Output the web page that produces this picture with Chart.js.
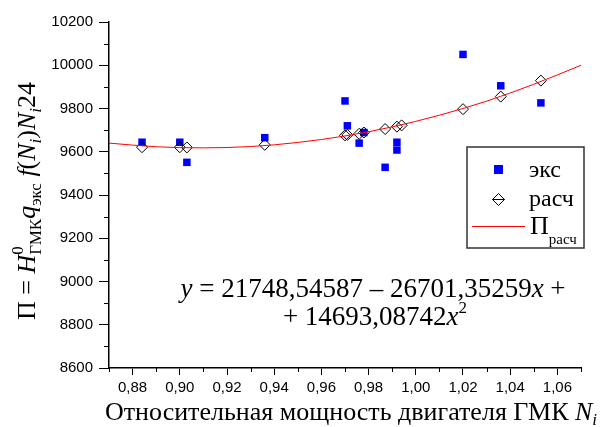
<!DOCTYPE html>
<html>
<head>
<meta charset="utf-8">
<script src="https://cdn.jsdelivr.net/npm/chart.js@4.4.0/dist/chart.umd.min.js"></script>
<style>
  html, body { margin: 0; padding: 0; background: #fff; }
  #wrap { width: 606px; height: 427px; }
</style>
</head>
<body>
<div id="wrap"><canvas id="chart" width="606" height="427"></canvas></div>
<script>
// experimental points (экс)
const expX = [0.884, 0.900, 0.903, 0.936, 0.970, 0.971, 0.976, 0.978, 0.987, 0.992, 0.992, 1.020, 1.036, 1.053];
const expY = [9644, 9644, 9551, 9665, 9835, 9720, 9640, 9689, 9528, 9644, 9608, 10050, 9905, 9826];

// calculated points (расч)
const calcX = [0.884, 0.900, 0.903, 0.936, 0.970, 0.971, 0.976, 0.978, 0.987, 0.992, 0.994, 1.020, 1.036, 1.053];
const calcY = [9621, 9621, 9620, 9632, 9676, 9678, 9683, 9689, 9705, 9716, 9722, 9797, 9855, 9929];

// fitted curve (П расч)
const fitX = [0.87, 0.89, 0.91, 0.93, 0.95, 0.97, 0.99, 1.01, 1.03, 1.05, 1.07];
const fitY = [9640, 9623, 9618, 9624, 9643, 9673, 9715, 9769, 9834, 9912, 10000];

// axis ticks
const xTicks = [0.88, 0.90, 0.92, 0.94, 0.96, 0.98, 1.00, 1.02, 1.04, 1.06];
const xMinor = [0.87, 0.89, 0.91, 0.93, 0.95, 0.97, 0.99, 1.01, 1.03, 1.05, 1.07];
const yTicks = [8600, 8800, 9000, 9200, 9400, 9600, 9800, 10000, 10200];
const yMinor = [8700, 8900, 9100, 9300, 9500, 9700, 9900, 10100];

const serif = '"Liberation Serif", "Times New Roman", serif';
const sans = '"Liberation Sans", Arial, sans-serif';

const toPts = (xs, ys) => xs.map((x, i) => ({ x: x, y: ys[i] }));

// draws a list of text runs: [text, font, dy, advance]
function drawRuns(ctx, parts, x, y) {
  let w = 0;
  parts.forEach(p => {
    ctx.font = p[1];
    ctx.fillText(p[0], x + w, y + (p[2] || 0));
    if (p[3] !== false) w += ctx.measureText(p[0]).width;
  });
  return w;
}
function runsWidth(ctx, parts) {
  let w = 0;
  parts.forEach(p => {
    ctx.font = p[1];
    if (p[3] !== false) w += ctx.measureText(p[0]).width;
  });
  return w;
}

const big = '26px ' + serif, bigI = 'italic 26px ' + serif;
const sm = '17px ' + serif, smI = 'italic 17px ' + serif;
const eqF = '27px ' + serif, eqI = 'italic 27px ' + serif;
const yTitle = [
  ['П = ', big], ['H', bigI], ['0', sm, -12, false], ['ГМК', sm, 6],
  ['q', bigI], ['экс', sm, 6], [' f', bigI], ['(', big], ['N', bigI], ['i', smI, 6],
  [')', big], ['N', bigI], ['i', smI, 6], ['24', big]
];
const xTitle = [
  ['Относительная мощность двигателя ГМК ', '26px ' + serif],
  ['N', 'italic 26px ' + serif], ['i', 'italic 17px ' + serif, 5]
];
const eq1 = [
  ['y', eqI], [' = 21748,54587 – 26701,35259', eqF], ['x', eqI], [' +', eqF]
];
const eq2 = [
  ['+ 14693,08742', eqF], ['x', eqI], ['2', '17px ' + serif, -12]
];

const extras = {
  id: 'extras',
  afterDraw(chart) {
    const ctx = chart.ctx;
    const xs = chart.scales.x, ys = chart.scales.y;
    const a = chart.chartArea;
    ctx.save();

    // minor ticks
    ctx.strokeStyle = '#000';
    ctx.lineWidth = 1;
    ctx.beginPath();
    xMinor.forEach(v => {
      const px = Math.round(xs.getPixelForValue(v)) + 0.5;
      ctx.moveTo(px, a.bottom);
      ctx.lineTo(px, a.bottom + 4);
    });
    yMinor.forEach(v => {
      const py = Math.round(ys.getPixelForValue(v)) + 0.5;
      ctx.moveTo(a.left, py);
      ctx.lineTo(a.left - 5, py);
    });
    ctx.stroke();

    ctx.fillStyle = '#000';
    ctx.textBaseline = 'alphabetic';
    ctx.textAlign = 'left';

    // y title (rotated)
    ctx.save();
    ctx.translate(35, 201);
    ctx.rotate(-Math.PI / 2);
    drawRuns(ctx, yTitle, -runsWidth(ctx, yTitle) / 2, 0);
    ctx.restore();

    // x title
    drawRuns(ctx, xTitle, 351 - runsWidth(ctx, xTitle) / 2, 420);

    // equation
    drawRuns(ctx, eq1, 373 - runsWidth(ctx, eq1) / 2, 297);
    drawRuns(ctx, eq2, 375 - runsWidth(ctx, eq2) / 2, 325);

    // legend
    const L = 467, T = 147, R = 584, B = 248;
    ctx.strokeStyle = '#333';
    ctx.lineWidth = 1.5;
    ctx.strokeRect(L, T, R - L, B - T);

    ctx.fillStyle = '#0000ff';
    ctx.fillRect(494, 165, 9, 9);

    ctx.strokeStyle = '#000';
    ctx.lineWidth = 1;
    ctx.beginPath();
    ctx.moveTo(498.5, 193.5); ctx.lineTo(504.5, 199.5); ctx.lineTo(498.5, 205.5); ctx.lineTo(492.5, 199.5); ctx.closePath();
    ctx.moveTo(492.5, 199.5); ctx.lineTo(504.5, 199.5);
    ctx.stroke();

    ctx.strokeStyle = '#ff0000';
    ctx.beginPath();
    ctx.moveTo(472, 226.5); ctx.lineTo(525, 226.5);
    ctx.stroke();

    ctx.fillStyle = '#000';
    ctx.font = '24px ' + serif;
    ctx.fillText('экс', 529, 177);
    ctx.fillText('расч', 529, 206);
    drawRuns(ctx, [['П', '26px ' + serif], ['расч', '15px ' + serif, 10]], 530, 234);

    ctx.restore();
  }
};

new Chart(document.getElementById('chart'), {
  type: 'scatter',
  data: {
    datasets: [
      {
        label: 'экс',
        data: toPts(expX, expY),
        order: 3,
        pointStyle: 'rect',
        pointRadius: 5.3,
        pointBorderWidth: 0,
        pointBackgroundColor: '#0000ff',
        pointBorderColor: '#0000ff'
      },
      {
        label: 'расч',
        data: toPts(calcX, calcY),
        order: 2,
        pointStyle: 'rectRot',
        pointRadius: 5.5,
        pointBorderWidth: 1,
        pointBackgroundColor: 'rgba(0,0,0,0)',
        pointBorderColor: '#000'
      },
      {
        label: 'Прасч',
        data: toPts(fitX, fitY),
        order: 1,
        showLine: true,
        borderColor: '#ff0000',
        borderWidth: 1,
        pointRadius: 0,
        cubicInterpolationMode: 'monotone'
      }
    ]
  },
  options: {
    responsive: false,
    animation: false,
    devicePixelRatio: 1,
    layout: { padding: { top: 22, right: 25, left: 0, bottom: 0 } },
    plugins: { legend: { display: false }, tooltip: { enabled: false } },
    scales: {
      x: {
        type: 'linear',
        min: 0.87,
        max: 1.07,
        afterBuildTicks: s => { s.ticks = xTicks.map(v => ({ value: v })); },
        afterFit: s => { s.height = 59; },
        grid: { drawOnChartArea: false, drawTicks: true, tickLength: 7, color: '#000', lineWidth: 1 },
        border: { display: true, color: '#000', width: 1.5 },
        ticks: {
          padding: 4,
          maxRotation: 0,
          autoSkip: false,
          color: '#000',
          font: { family: sans, size: 15 },
          callback: v => v.toFixed(2).replace('.', ',')
        }
      },
      y: {
        type: 'linear',
        min: 8600,
        max: 10200,
        afterBuildTicks: s => { s.ticks = yTicks.map(v => ({ value: v })); },
        afterFit: s => { s.width = 109; },
        grid: { drawOnChartArea: false, drawTicks: true, tickLength: 10, color: '#000', lineWidth: 1 },
        border: { display: true, color: '#000', width: 1.5 },
        ticks: {
          padding: 6,
          autoSkip: false,
          color: '#000',
          font: { family: sans, size: 15 },
          callback: v => String(v)
        }
      }
    }
  },
  plugins: [extras]
});
</script>
</body>
</html>
